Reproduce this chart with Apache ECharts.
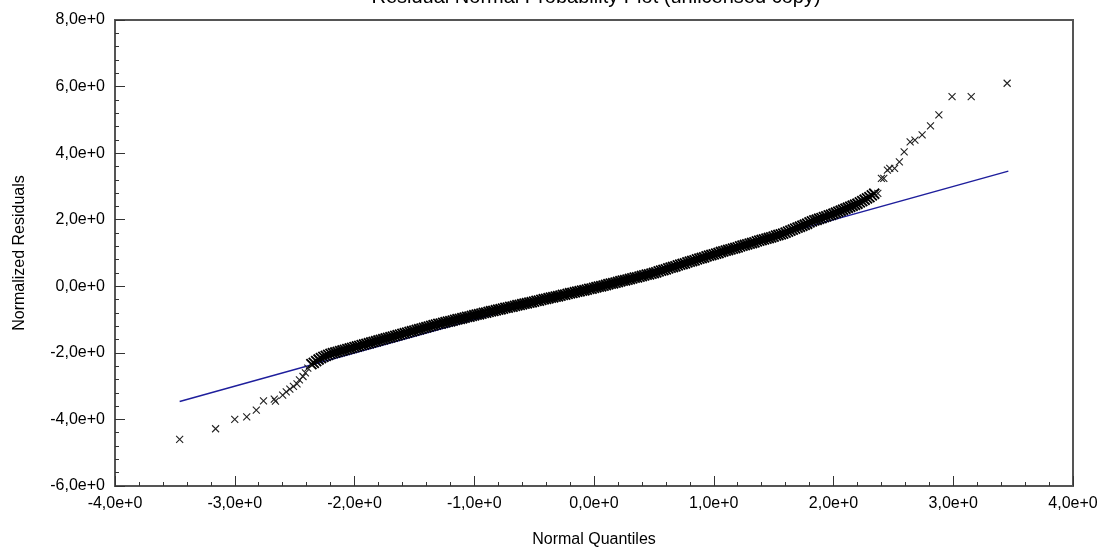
<!DOCTYPE html>
<html>
<head>
<meta charset="utf-8">
<script src="https://cdn.jsdelivr.net/npm/echarts@6/dist/echarts.min.js"></script>
<style>
html,body{margin:0;padding:0;background:#fff;}
#chart{width:1115px;height:552px;}
</style>
</head>
<body>
<div id="chart"></div>
<script>
const chartTitle = "Residual Normal Probability Plot (unlicensed copy)";
const xAxisName = "Normal Quantiles";
const yAxisName = "Normalized Residuals";

// lower tail points (normal quantile, normalized residual)
const lowTailX = [-3.46, -3.16, -3.00, -2.90, -2.82, -2.76, -2.67, -2.66, -2.60, -2.57, -2.54, -2.51, -2.48, -2.46, -2.43, -2.41, -2.39];
const lowTailY = [-4.60, -4.28, -4.00, -3.92, -3.72, -3.44, -3.39, -3.45, -3.27, -3.17, -3.09, -3.01, -2.93, -2.81, -2.71, -2.60, -2.46];

// dense central band (normal quantile, normalized residual)
const bandX = [
 -2.36,-2.34,-2.32,-2.30,-2.28,-2.26,-2.24,-2.22,-2.20,-2.18,-2.16,-2.14,-2.12,-2.10,-2.08,-2.06,-2.04,-2.02,-2.00,
 -1.98,-1.96,-1.94,-1.92,-1.90,-1.88,-1.86,-1.84,-1.82,-1.80,-1.78,-1.76,-1.74,-1.72,-1.70,-1.68,-1.66,-1.64,-1.62,-1.60,
 -1.58,-1.56,-1.54,-1.52,-1.50,-1.48,-1.46,-1.44,-1.42,-1.40,-1.38,-1.36,-1.34,-1.32,-1.30,-1.28,-1.26,-1.24,-1.22,-1.20,
 -1.18,-1.16,-1.14,-1.12,-1.10,-1.08,-1.06,-1.04,-1.02,-1.00,
 -0.98,-0.96,-0.94,-0.92,-0.90,-0.88,-0.86,-0.84,-0.82,-0.80,-0.78,-0.76,-0.74,-0.72,-0.70,-0.68,-0.66,-0.64,-0.62,-0.60,
 -0.58,-0.56,-0.54,-0.52,-0.50,-0.48,-0.46,-0.44,-0.42,-0.40,-0.38,-0.36,-0.34,-0.32,-0.30,-0.28,-0.26,-0.24,-0.22,-0.20,
 -0.18,-0.16,-0.14,-0.12,-0.10,-0.08,-0.06,-0.04,-0.02,0.00,
 0.02,0.04,0.06,0.08,0.10,0.12,0.14,0.16,0.18,0.20,0.22,0.24,0.26,0.28,0.30,0.32,0.34,0.36,0.38,0.40,
 0.42,0.44,0.46,0.48,0.50,0.52,0.54,0.56,0.58,0.60,0.62,0.64,0.66,0.68,0.70,0.72,0.74,0.76,0.78,0.80,
 0.82,0.84,0.86,0.88,0.90,0.92,0.94,0.96,0.98,1.00,
 1.02,1.04,1.06,1.08,1.10,1.12,1.14,1.16,1.18,1.20,1.22,1.24,1.26,1.28,1.30,1.32,1.34,1.36,1.38,1.40,
 1.42,1.44,1.46,1.48,1.50,1.52,1.54,1.56,1.58,1.60,
 1.62,1.64,1.66,1.68,1.70,1.72,1.74,1.76,1.78,1.80,1.82,1.84,1.86,1.88,1.90,1.92,1.94,1.96,1.98,2.00,
 2.02,2.04,2.06,2.08,2.10,2.12,2.14,2.16,2.18,2.20,2.22,2.24,2.26,2.28,2.30,2.32,2.34
];
const bandY = [
 -2.34,-2.30,-2.25,-2.20,-2.16,-2.12,-2.09,-2.06,-2.03,-2.01,-1.99,-1.97,-1.95,-1.93,-1.91,-1.89,-1.87,-1.85,-1.83,
 -1.81,-1.79,-1.77,-1.75,-1.73,-1.71,-1.69,-1.67,-1.65,-1.63,-1.61,-1.59,-1.57,-1.55,-1.53,-1.51,-1.49,-1.47,-1.45,-1.43,
 -1.41,-1.39,-1.37,-1.35,-1.33,-1.31,-1.29,-1.27,-1.25,-1.23,-1.21,-1.19,-1.17,-1.15,-1.13,-1.12,-1.10,-1.08,-1.06,-1.05,
 -1.03,-1.01,-0.99,-0.98,-0.96,-0.94,-0.92,-0.91,-0.89,-0.87,
 -0.85,-0.84,-0.82,-0.80,-0.79,-0.77,-0.75,-0.74,-0.72,-0.70,-0.69,-0.67,-0.65,-0.64,-0.62,-0.61,-0.59,-0.57,-0.56,-0.54,
 -0.52,-0.51,-0.49,-0.48,-0.46,-0.44,-0.43,-0.41,-0.39,-0.38,-0.36,-0.34,-0.33,-0.31,-0.30,-0.28,-0.26,-0.25,-0.23,-0.21,
 -0.20,-0.18,-0.16,-0.15,-0.13,-0.12,-0.10,-0.08,-0.07,-0.05,
 -0.03,-0.01,0.00,0.02,0.04,0.06,0.08,0.09,0.11,0.13,0.15,0.17,0.18,0.20,0.22,0.24,0.26,0.27,0.29,0.31,
 0.33,0.35,0.36,0.38,0.40,0.42,0.45,0.47,0.49,0.51,0.54,0.56,0.58,0.60,0.63,0.65,0.67,0.69,0.72,0.74,
 0.76,0.78,0.81,0.83,0.85,0.87,0.90,0.92,0.94,0.96,
 0.98,1.00,1.03,1.05,1.07,1.09,1.11,1.13,1.15,1.17,1.20,1.22,1.24,1.26,1.28,1.30,1.32,1.35,1.37,1.39,
 1.41,1.43,1.45,1.47,1.49,1.52,1.54,1.56,1.58,1.61,
 1.64,1.67,1.70,1.73,1.76,1.79,1.82,1.85,1.88,1.92,1.95,1.98,2.00,2.03,2.05,2.08,2.10,2.13,2.15,2.18,
 2.21,2.24,2.27,2.30,2.33,2.36,2.39,2.42,2.45,2.48,2.52,2.56,2.60,2.64,2.68,2.73,2.78
];

// upper tail points
const highTailX = [2.37, 2.40, 2.42, 2.45, 2.47, 2.51, 2.55, 2.59, 2.64, 2.68, 2.74, 2.81, 2.88, 2.99, 3.15, 3.45];
const highTailY = [2.79, 3.24, 3.24, 3.49, 3.54, 3.54, 3.74, 4.04, 4.34, 4.39, 4.55, 4.82, 5.15, 5.70, 5.70, 6.10];

// reference line end points
const refLineX = [-3.46, 3.46];
const refLineY = [-3.46, 3.46];

function zip(xs, ys){ return xs.map((x,i)=>[x, ys[i]]); }
const tailPoints = zip(lowTailX, lowTailY).concat(zip(highTailX, highTailY));
const bandPoints = zip(bandX, bandY);
const refLine = zip(refLineX, refLineY);

function fmt(v){ return v.toFixed(1).replace('.', ',') + 'e+0'; }

const font = "'Liberation Sans', Arial, sans-serif";
const crossSymbol = 'path://M0,0L10,10M10,0L0,10';
const chart = echarts.init(document.getElementById('chart'), null, {renderer:'canvas'});
chart.setOption({
  animation: false,
  backgroundColor: '#ffffff',
  title: {
    text: chartTitle, left: 596, top: -13, padding: 0, textAlign: 'center',
    textStyle: {fontFamily: font, fontSize: 20, fontWeight: 'normal', color: '#000'}
  },
  grid: {left:115, right:42, top:20, bottom:66, show:true, borderColor:'#555', borderWidth:2, backgroundColor:'#fff', outerBoundsMode:'none', containLabel:false},
  xAxis: {
    type:'value', min:-4, max:4, interval:1,
    name: xAxisName, nameLocation:'middle', nameGap:46,
    nameTextStyle:{fontFamily:font, fontSize:16, color:'#000'},
    axisLine:{show:true, onZero:false, lineStyle:{color:'#555', width:2}},
    axisTick:{show:true, inside:true, length:10, lineStyle:{color:'#333', width:1}},
    minorTick:{show:true, splitNumber:5, length:4, lineStyle:{color:'#333', width:1}},
    axisLabel:{formatter:fmt, fontFamily:font, fontSize:16, color:'#000', margin:10},
    splitLine:{show:false}
  },
  yAxis: {
    type:'value', min:-6, max:8, interval:2,
    name: yAxisName, nameLocation:'middle', nameGap:87,
    nameTextStyle:{fontFamily:font, fontSize:16, color:'#000'},
    axisLine:{show:true, onZero:false, lineStyle:{color:'#555', width:2}},
    axisTick:{show:true, inside:true, length:10, lineStyle:{color:'#333', width:1}},
    minorTick:{show:true, splitNumber:5, length:4, lineStyle:{color:'#333', width:1}},
    axisLabel:{formatter:fmt, fontFamily:font, fontSize:16, color:'#000', margin:10},
    splitLine:{show:false}
  },
  series: [
    {
      type:'line', data: refLine, symbol:'none', z:1,
      lineStyle:{color:'#1e1e9c', width:1.5}
    },
    {
      type:'scatter', data: bandPoints, z:2,
      symbol: crossSymbol, symbolSize:10,
      itemStyle:{color:'rgba(0,0,0,0)', borderColor:'#000', borderWidth:1.9, opacity:1}
    },
    {
      type:'scatter', data: tailPoints, z:2,
      symbol: crossSymbol, symbolSize:7,
      itemStyle:{color:'rgba(0,0,0,0)', borderColor:'#222', borderWidth:1.1, opacity:1}
    }
  ]
});
</script>
</body>
</html>
